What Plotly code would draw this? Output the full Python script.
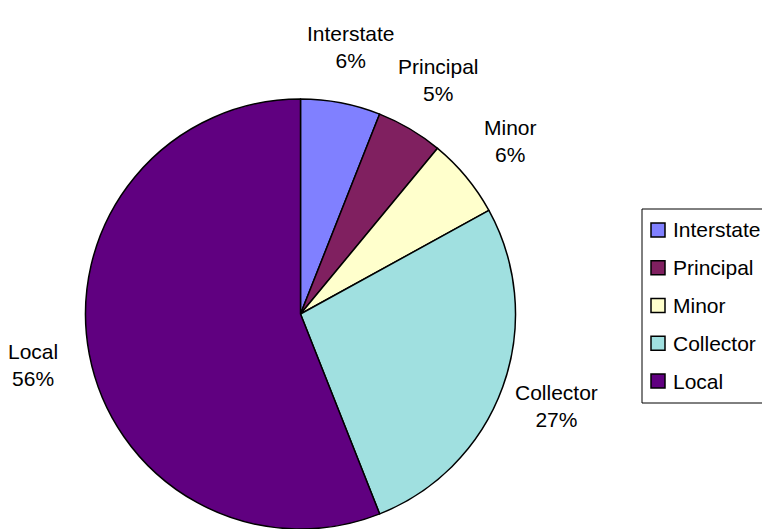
import math
import plotly.graph_objects as go

# Road mileage share by functional class
categories = ["Interstate", "Principal", "Minor", "Collector", "Local"]
shares = [6, 5, 6, 27, 56]
colors = ["#8080FF", "#802060", "#FFFFCC", "#A0E0E0", "#600080"]

W, H = 762, 529
FONT = "Liberation Sans, Arial, sans-serif"
TXT = 21

# pie placement in pixels
CX, CY, R = 300.5, 314, 215
LABEL_R = 272  # distance from centre to each data label

fig = go.Figure(
    go.Pie(
        labels=categories,
        values=shares,
        sort=False,
        direction="clockwise",
        rotation=0,
        marker=dict(colors=colors, line=dict(color="black", width=1.5)),
        textinfo="none",
        hoverinfo="label+percent",
        showlegend=False,
        domain=dict(x=[(CX - R) / W, (CX + R) / W], y=[1 - (CY + R) / H, 1 - (CY - R) / H]),
    )
)

# data labels: name and rounded share, placed along each slice's mid-angle
total = sum(shares)
start = 0.0
for name, v in zip(categories, shares):
    frac = v / total
    mid = (start + frac / 2) * 2 * math.pi
    start += frac
    px = CX + LABEL_R * math.sin(mid)
    py = CY - LABEL_R * math.cos(mid)
    fig.add_annotation(
        x=px / W, y=1 - py / H, xref="paper", yref="paper",
        text=f"{name}<br>{round(frac * 100)}%",
        showarrow=False, xanchor="center", yanchor="middle", align="center",
        font=dict(family=FONT, size=TXT, color="black"),
    )

# legend box with one swatch per category
LEG_X0, LEG_Y0, LEG_Y1 = 642, 209, 403
ROW0, ROW_GAP, SW = 230, 37.75, 14
fig.add_shape(
    type="rect", xref="paper", yref="paper",
    x0=LEG_X0 / W, x1=1.02, y0=1 - LEG_Y1 / H, y1=1 - LEG_Y0 / H,
    line=dict(color="black", width=1), fillcolor="white", layer="below",
)
for i, (name, col) in enumerate(zip(categories, colors)):
    yc = ROW0 + i * ROW_GAP
    fig.add_shape(
        type="rect", xref="paper", yref="paper",
        x0=651 / W, x1=(651 + SW) / W,
        y0=1 - (yc + SW / 2) / H, y1=1 - (yc - SW / 2) / H,
        line=dict(color="black", width=1.5), fillcolor=col,
    )
    fig.add_annotation(
        x=671 / W, y=1 - yc / H, xref="paper", yref="paper",
        text=name, showarrow=False, xanchor="left", yanchor="middle",
        font=dict(family=FONT, size=TXT, color="black"),
    )

fig.update_layout(
    width=W,
    height=H,
    margin=dict(l=0, r=0, t=0, b=0),
    paper_bgcolor="white",
    plot_bgcolor="white",
    showlegend=False,
)

fig.write_html("out.html")
